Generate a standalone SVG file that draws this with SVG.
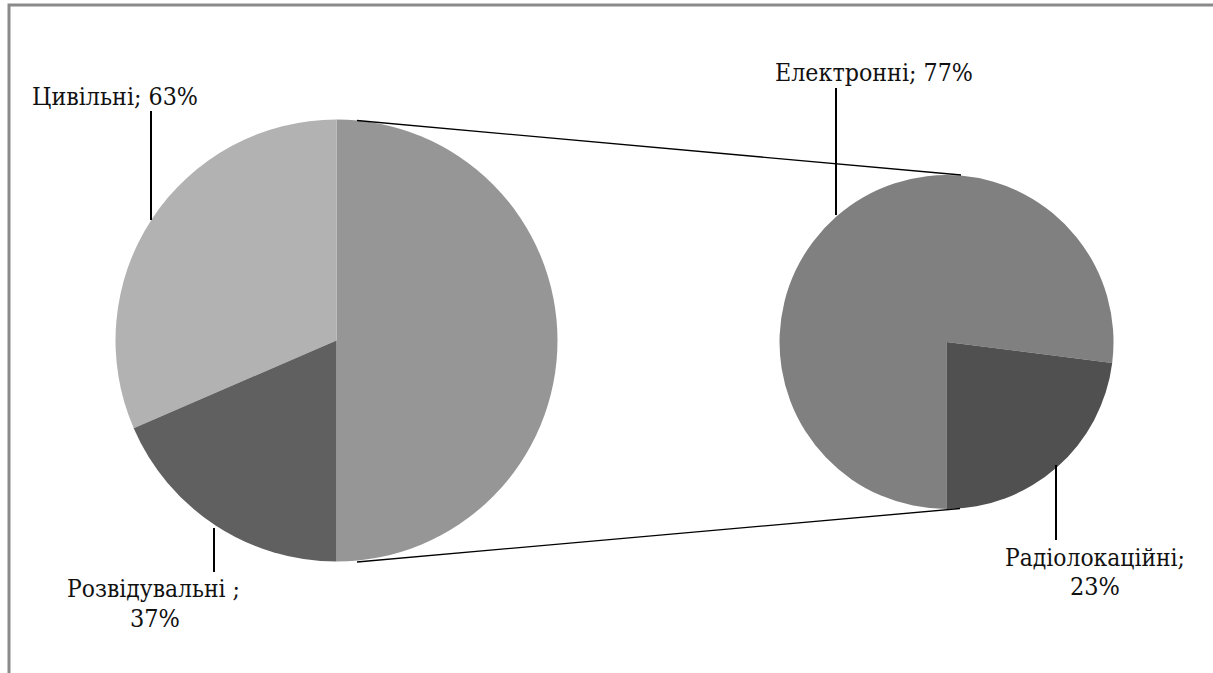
<svg xmlns="http://www.w3.org/2000/svg" width="1213" height="673" viewBox="0 0 1213 673">
<style>
text{font-family:'DejaVu Serif',serif;font-size:25px;fill:#111}
.lead{stroke:#000;stroke-width:2;fill:none}
.conn{stroke:#000;stroke-width:1.3;fill:none}
</style>
<rect width="1213" height="673" fill="#fff"/>
<path d="M9,673 V5 H1213" fill="none" stroke="#8a8a8a" stroke-width="3"/>
<g id="pie-main">
<path d="M336.5,340.5 L336.5,119.5 A221,221 0 0,1 336.5,561.5 Z" fill="#969696"/>
<path d="M336.5,340.5 L336.5,119.5 A221,221 0 0,0 133.7,428.3 Z" fill="#b2b2b2"/>
<path d="M336.5,340.5 L133.7,428.3 A221,221 0 0,0 336.5,561.5 Z" fill="#606060"/>
</g>
<g id="pie-sub">
<path d="M946.5,342 L946.5,509 A167,167 0 1,1 1112.2,362.9 Z" fill="#808080"/>
<path d="M946.5,342 L1112.2,362.9 A167,167 0 0,1 946.5,509 Z" fill="#505050"/>
</g>
<g id="connectors">
<line class="conn" x1="357" y1="120.5" x2="961" y2="175"/>
<line class="conn" x1="357" y1="562" x2="960" y2="508.5"/>
<line class="lead" x1="151" y1="111" x2="151" y2="220"/>
<line class="lead" x1="836" y1="88" x2="836" y2="215"/>
<line class="lead" x1="214" y1="528" x2="214" y2="572"/>
<line class="lead" x1="1056" y1="465" x2="1056" y2="540"/>
</g>
<g id="label-civil"><text x="32" y="105" textLength="166" lengthAdjust="spacingAndGlyphs">Цивільні; 63%</text></g>
<g id="label-electronic"><text x="775" y="81" textLength="198" lengthAdjust="spacingAndGlyphs">Електронні; 77%</text></g>
<g id="label-recon"><text x="67" y="597" textLength="173" lengthAdjust="spacingAndGlyphs">Розвідувальні ;</text><text x="130" y="627" textLength="50" lengthAdjust="spacingAndGlyphs">37%</text></g>
<g id="label-radar"><text x="1005" y="566" textLength="180" lengthAdjust="spacingAndGlyphs">Радіолокаційні;</text><text x="1070" y="595" textLength="50" lengthAdjust="spacingAndGlyphs">23%</text></g>
</svg>
